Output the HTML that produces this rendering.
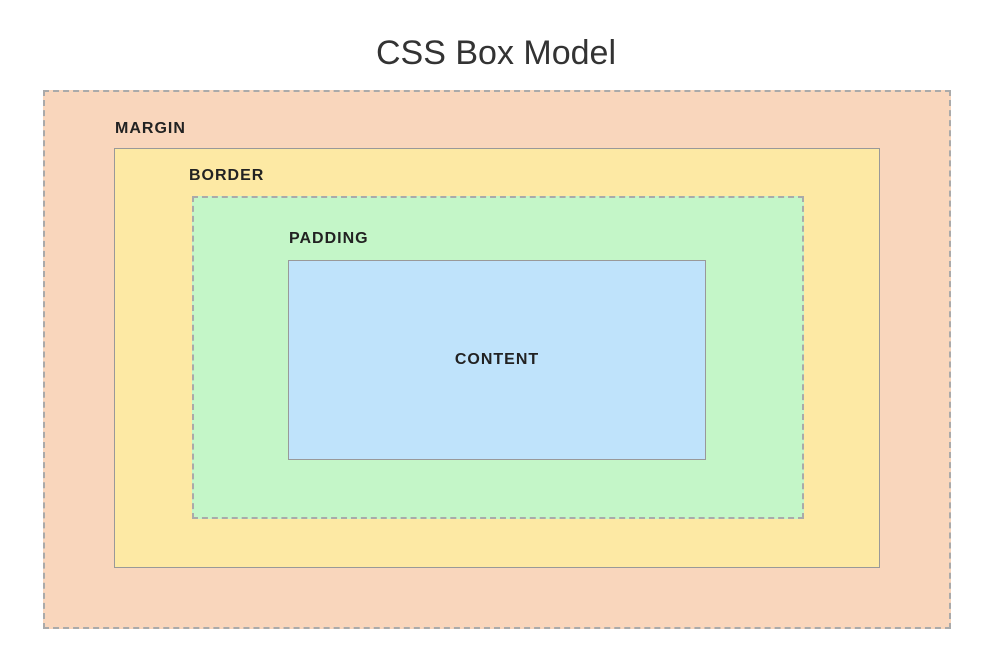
<!DOCTYPE html>
<html><head><style>
body{margin:0;width:992px;height:645px;background:#fff;position:relative;font-family:"Liberation Sans",sans-serif;overflow:hidden}
.b{position:absolute;box-sizing:border-box}
.l{position:absolute;font-size:16px;font-weight:bold;letter-spacing:1px;color:#222}
</style></head><body>
<div style="position:absolute;left:0;width:992px;top:34px;text-align:center;font-size:34px;color:#333">CSS Box Model</div>
<div class="b" style="left:43px;top:90px;width:908px;height:539px;background:#f9d6bc;border:2px dashed #aaa"></div>
<div class="b" style="left:114px;top:148px;width:766px;height:420px;background:#fde9a4;border:1px solid #999"></div>
<div class="b" style="left:192px;top:196px;width:612px;height:323px;background:#c4f6c8;border:2px dashed #aaa"></div>
<div class="b" style="left:288px;top:260px;width:418px;height:200px;background:#bfe3fb;border:1px solid #999"></div>
<div class="l" style="left:115px;top:120px">MARGIN</div>
<div class="l" style="left:189px;top:167px">BORDER</div>
<div class="l" style="left:289px;top:230px">PADDING</div>
<div class="l" style="left:288px;width:418px;text-align:center;top:351px">CONTENT</div>
</body></html>
